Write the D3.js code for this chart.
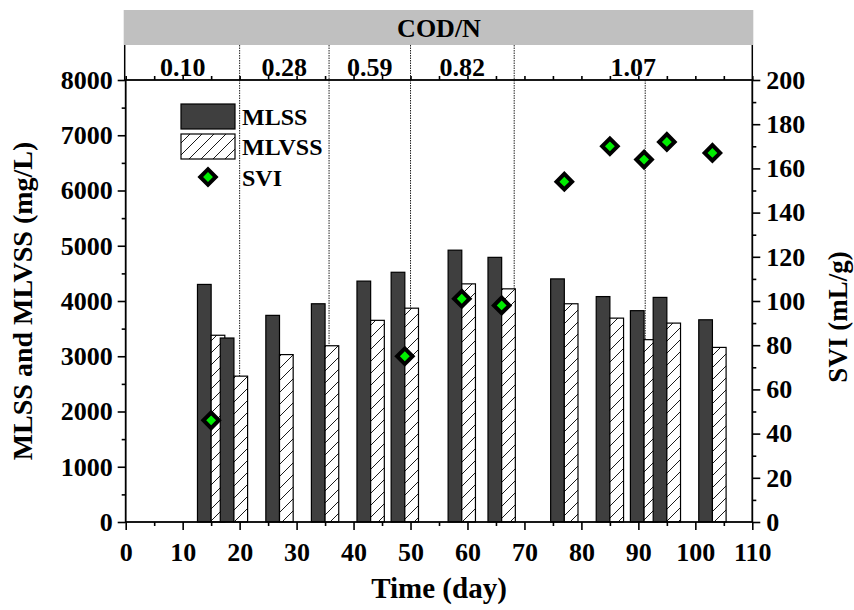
<!DOCTYPE html>
<html>
<head>
<meta charset="utf-8">
<script src="https://cdn.jsdelivr.net/npm/d3@7/dist/d3.min.js"></script>
<style>
  html,body{margin:0;padding:0;background:#fff;}
  svg text{font-family:"Liberation Serif","Times New Roman",serif;font-weight:bold;fill:#000;}
</style>
</head>
<body>
<div id="chart"></div>
<script>
// ---------------------------------------------------------------------------
// MLSS / MLVSS bars + SVI points, COD/N phases on top
// ---------------------------------------------------------------------------

/* ----- data ------------------------------------------------------------- */
const days     = [15, 19, 27, 35, 43, 49, 59, 66, 77, 85, 91, 95, 103];
const mlss     = [4300, 3330, 3740, 3950, 4360, 4520, 4920, 4790, 4400, 4080, 3825, 4065, 3660];
const mlvss    = [3380, 2640, 3030, 3190, 3650, 3870, 4310, 4220, 3950, 3690, 3300, 3600, 3160];
const sviDays  = [15, 49, 59, 66, 77, 85, 91, 95, 103];
const svi      = [46, 75, 101, 98, 154, 170, 164, 172, 167];

const phaseBreaks = [20, 35.7, 50, 68.2];          // dotted lines through header
const extraBreaks = [91.2];                        // dotted line inside plot only
const phaseLabels = ['0.10', '0.28', '0.59', '0.82', '1.07'];

const xTicks    = d3.range(0, 111, 10);
const yTicks    = d3.range(0, 8001, 1000);
const y2Ticks   = d3.range(0, 201, 20);

/* ----- layout ----------------------------------------------------------- */
const W = 854, H = 610;
const L = 125.7, R = 752.3, T = 80, B = 522;
const HEAD_TOP = 10, HEAD_MID = 45;
const BAR_W = 2.4;                                  // bar width in days

const svg = d3.select('#chart').append('svg')
  .attr('width', W).attr('height', H);

const x  = d3.scaleLinear().domain([0, 110]).range([L, R]);
const y  = d3.scaleLinear().domain([0, 8000]).range([B, T]);
const y2 = d3.scaleLinear().domain([0, 200]).range([B, T]);

/* hatch pattern */
const defs = svg.append('defs');
const pat = defs.append('pattern')
  .attr('id', 'hatch').attr('patternUnits', 'userSpaceOnUse')
  .attr('width', 12).attr('height', 12);
pat.append('rect').attr('width', 12).attr('height', 12).attr('fill', '#fff');
pat.append('path')
  .attr('d', 'M-3,3 l6,-6 M0,12 l12,-12 M9,15 l6,-6')
  .attr('stroke', '#000').attr('stroke-width', 0.9);

/* ----- header (COD/N) --------------------------------------------------- */
svg.append('rect')
  .attr('x', L - 2).attr('y', HEAD_TOP)
  .attr('width', R - L + 3).attr('height', HEAD_MID - HEAD_TOP)
  .attr('fill', '#c0c0c0');
svg.append('text')
  .attr('x', (L + R) / 2).attr('y', 37)
  .attr('text-anchor', 'middle').attr('font-size', 26)
  .text('COD/N');

[L - 1, R].forEach(px => svg.append('line')
  .attr('x1', px).attr('x2', px).attr('y1', HEAD_MID).attr('y2', T)
  .attr('stroke', '#000').attr('stroke-width', 1.5));

const bounds = [0, ...phaseBreaks, 110];
svg.append('g').selectAll('text')
  .data(phaseLabels).join('text')
    .attr('x', (d, i) => (x(bounds[i]) + x(bounds[i + 1])) / 2)
    .attr('y', 76)
    .attr('text-anchor', 'middle').attr('font-size', 26)
    .text(d => d);

/* dotted phase lines */
svg.append('g').selectAll('line')
  .data(phaseBreaks).join('line')
    .attr('x1', d => x(d)).attr('x2', d => x(d))
    .attr('y1', HEAD_MID).attr('y2', B)
    .attr('stroke', '#222').attr('stroke-width', 1)
    .attr('stroke-dasharray', '1.5,1');
svg.append('g').selectAll('line')
  .data(extraBreaks).join('line')
    .attr('x1', d => x(d)).attr('x2', d => x(d))
    .attr('y1', T).attr('y2', B)
    .attr('stroke', '#222').attr('stroke-width', 1)
    .attr('stroke-dasharray', '1.5,1');

/* ----- bars (pair by pair) ---------------------------------------------- */
const pairs = svg.append('g').selectAll('g')
  .data(days.map((d, i) => ({day: d, a: mlss[i], b: mlvss[i]})))
  .join('g');
pairs.append('rect')
  .attr('x', d => x(d.day - BAR_W)).attr('width', x(BAR_W) - x(0))
  .attr('y', d => y(d.a)).attr('height', d => B - y(d.a))
  .attr('fill', '#3f3f3f').attr('stroke', '#000').attr('stroke-width', 1.2);
pairs.append('rect')
  .attr('x', d => x(d.day)).attr('width', x(BAR_W) - x(0))
  .attr('y', d => y(d.b)).attr('height', d => B - y(d.b))
  .attr('fill', 'url(#hatch)').attr('stroke', '#000').attr('stroke-width', 1.2);

/* ----- SVI diamonds ----------------------------------------------------- */
const diamond = d3.symbol().type(d3.symbolSquare).size(120);
svg.append('g').selectAll('path')
  .data(sviDays.map((d, i) => [d, svi[i]])).join('path')
    .attr('d', diamond)
    .attr('transform', d => `translate(${x(d[0])},${y2(d[1])}) rotate(45)`)
    .attr('fill', '#00ee00').attr('stroke', '#000').attr('stroke-width', 4)
    .attr('stroke-linejoin', 'miter');

/* ----- axes ------------------------------------------------------------- */
const fmt = d3.format('d');
function styleAxis(g) {
  g.select('.domain').remove();
  g.selectAll('line').attr('stroke', '#000').attr('stroke-width', 1.6);
  g.selectAll('text').attr('font-size', 26).attr('font-family', null);
}

// minor ticks first, majors over them
svg.append('g').attr('transform', `translate(0,${B})`)
  .call(d3.axisBottom(x).tickValues(d3.range(5, 110, 10)).tickSize(4).tickFormat(''))
  .call(styleAxis);
svg.append('g').attr('transform', `translate(0,${B})`)
  .call(d3.axisBottom(x).tickValues(xTicks).tickSize(8).tickPadding(6).tickFormat(fmt))
  .call(styleAxis)
  .selectAll('text').attr('dy', '0.95em');

svg.append('g').attr('transform', `translate(0,${T})`)
  .call(d3.axisTop(x).tickValues(d3.range(0, 111, 5)).tickSize(4).tickFormat(''))
  .call(styleAxis);

svg.append('g').attr('transform', `translate(${L},0)`)
  .call(d3.axisLeft(y).tickValues(d3.range(500, 8000, 1000)).tickSize(4).tickFormat(''))
  .call(styleAxis);
svg.append('g').attr('transform', `translate(${L},0)`)
  .call(d3.axisLeft(y).tickValues(yTicks).tickSize(8).tickPadding(5).tickFormat(fmt))
  .call(styleAxis);

svg.append('g').attr('transform', `translate(${R},0)`)
  .call(d3.axisRight(y2).tickValues(d3.range(10, 200, 20)).tickSize(4).tickFormat(''))
  .call(styleAxis);
svg.append('g').attr('transform', `translate(${R},0)`)
  .call(d3.axisRight(y2).tickValues(y2Ticks).tickSize(8).tickPadding(6).tickFormat(fmt))
  .call(styleAxis);

/* frame */
svg.append('rect')
  .attr('x', L).attr('y', T).attr('width', R - L).attr('height', B - T)
  .attr('fill', 'none').attr('stroke', '#000').attr('stroke-width', 1.8);

/* titles */
svg.append('text')
  .attr('x', (L + R) / 2).attr('y', 598)
  .attr('text-anchor', 'middle').attr('font-size', 29)
  .text('Time (day)');
svg.append('text')
  .attr('transform', `translate(32,${(T + B) / 2}) rotate(-90)`)
  .attr('text-anchor', 'middle').attr('font-size', 28)
  .text('MLSS and MLVSS (mg/L)');
svg.append('text')
  .attr('transform', `translate(847,317) rotate(-90)`)
  .attr('text-anchor', 'middle').attr('font-size', 27)
  .text('SVI (mL/g)');

/* ----- legend ----------------------------------------------------------- */
const leg = svg.append('g');
leg.append('rect').attr('x', 181).attr('y', 104).attr('width', 54).attr('height', 25)
  .attr('fill', '#3f3f3f').attr('stroke', '#000').attr('stroke-width', 1.2);
leg.append('rect').attr('x', 181).attr('y', 134).attr('width', 54).attr('height', 25)
  .attr('fill', 'url(#hatch)').attr('stroke', '#000').attr('stroke-width', 1.2);
leg.append('path').attr('d', diamond)
  .attr('transform', 'translate(208,177) rotate(45)')
  .attr('fill', '#00ee00').attr('stroke', '#000').attr('stroke-width', 4);
leg.selectAll('text')
  .data(['MLSS', 'MLVSS', 'SVI']).join('text')
    .attr('x', 242).attr('y', (d, i) => 116.5 + i * 30.5)
    .attr('dy', '0.35em').attr('font-size', 24)
    .text(d => d);
</script>
</body>
</html>
